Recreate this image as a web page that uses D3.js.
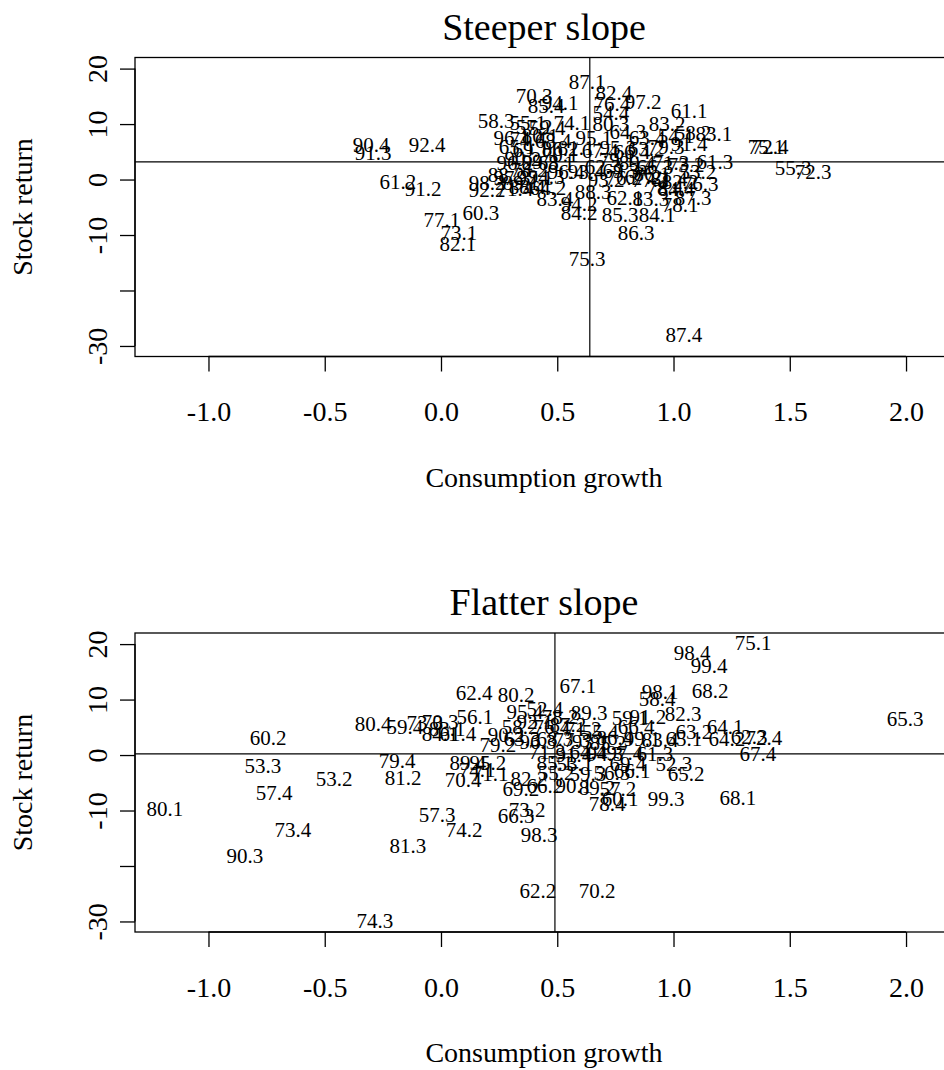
<!DOCTYPE html>
<html>
<head>
<meta charset="utf-8">
<script src="https://cdn.jsdelivr.net/npm/d3@7"></script>
<style>
  body { margin: 0; background: #fff; }
  text { font-family: "Liberation Serif", "Times New Roman", serif; fill: #000; }
</style>
</head>
<body>
<svg id="chart" width="944" height="1070"></svg>
<script>
// Steeper slope panel: quarter labels and their positions
var steepLabels = ["87.1","82.4","76.4","97.2","54.4","61.1","83.2","54.1","58.2","83.1",
  "91.4","75.1","72.4","55.3","72.3","90.4","91.3","92.4","58.3","55.1",
  "70.3","85.4","94.1","61.2","91.2","77.1","60.3","73.1","82.1","92.2",
  "71.4","64.2","83.4","98.2","88.2","89.1","97.1","96.2","93.4","93.2",
  "88.3","94.2","84.2","62.1","83.3","85.3","84.1","86.3","75.3","87.4",
  "78.1","87.3","77.2","78.4","84.4","82.2","76.3","76.2","67.2","61.3",
  "53.2","80.3","74.1","64.3","95.1","96.1","74.4","80.1","68.4","57.2",
  "59.4","65.1","69.1","86.2","81.1","67.4","95.3","66.4","63.2","79.1",
  "89.4","66.3","71.3","73.2","90.2","99.3","68.1","96.4","62.3","69.3",
  "86.1","81.4","78.2","94.3","88.4","97.3","79.3","63.4","70.1"];
var steepGrowth = [0.628,0.744,0.735,0.869,0.731,1.067,0.972,1.011,1.084,1.174,
  1.067,1.398,1.415,1.514,1.600,-0.301,-0.292,-0.060,0.237,0.374,
  0.400,0.452,0.512,-0.185,-0.077,0.004,0.172,0.077,0.073,0.198,
  0.318,0.460,0.490,0.198,0.280,0.344,0.404,0.318,0.624,0.710,
  0.654,0.594,0.594,0.791,0.903,0.770,0.929,0.839,0.628,1.045,
  1.028,1.084,0.899,0.963,1.011,1.028,1.114,0.787,0.869,1.178,
  1.105,0.731,0.563,0.804,0.658,0.305,0.374,0.426,0.482,0.400,
  0.456,0.327,0.387,0.512,0.581,0.684,0.761,0.821,0.882,0.757,
  0.843,0.920,0.989,1.054,0.352,0.426,0.495,0.538,0.697,0.774,
  0.907,0.981,0.379,0.452,0.370,0.305,0.968,0.886,0.512];
var steepReturn = [17.6,15.6,13.6,14.0,12.0,12.5,10.0,7.9,8.4,8.2,
  6.4,6.0,6.0,2.1,1.4,6.2,4.8,6.2,10.7,10.2,
  15.1,13.4,13.8,-0.3,-1.7,-7.3,-5.9,-9.5,-11.6,-1.9,
  -1.7,-1.5,-3.5,-0.6,0.8,-0.6,0.3,3.0,1.4,-0.1,
  -2.1,-4.4,-5.9,-3.2,-3.5,-6.4,-6.4,-9.5,-14.2,-27.9,
  -4.6,-3.3,-0.1,-1.4,-1.7,-0.3,-0.8,0.3,0.5,3.3,
  1.4,10.0,10.2,8.6,7.5,7.5,7.3,8.0,7.1,9.6,
  9.3,6.0,5.4,5.6,5.8,5.2,5.8,5.1,5.6,3.5,
  3.0,2.3,3.0,2.6,3.7,3.3,3.0,1.4,2.3,1.6,
  1.0,0.1,1.7,0.6,-1.2,0.3,6.0,7.5,4.5];
var steepMeanGrowth = 0.64;
var steepMeanReturn = 3.2;

// Flatter slope panel
var flatLabels = ["75.1","98.4","99.4","68.2","98.1","58.4","82.3","59.1","91.2","66.4",
  "63.2","64.1","65.1","64.2","62.3","72.4","67.4","65.3","65.2","52.3",
  "99.3","68.1","66.1","78.4","60.1","57.2","90.1","89.2","66.2","85.1",
  "53.1","55.2","59.3","69.4","56.3","82.2","69.2","73.2","66.3","98.3",
  "62.2","70.2","57.3","74.2","81.3","70.4","89.4","95.2","71.1","74.1",
  "81.2","79.4","53.2","53.3","57.4","80.1","73.4","90.3","74.3","60.2",
  "80.4","59.4","73.3","70.3","56.1","62.4","80.2","84.1","61.4","83.1",
  "79.2","90.2","63.3","68.3","95.4","52.4","89.3","78.2","67.1","99.1",
  "64.4","94.3","97.4","92.1","76.4","87.2","71.2","55.4","86.4","96.3",
  "77.3","93.1","85.2","83.4","61.3","91.4","71.3","58.2"];
var flatGrowth = [1.342,1.080,1.153,1.157,0.942,0.929,1.041,0.813,0.890,0.839,
  1.088,1.222,1.045,1.230,1.325,1.389,1.363,1.996,1.054,1.002,
  0.968,1.277,0.822,0.714,0.770,0.761,0.572,0.671,0.447,0.490,
  0.576,0.495,0.632,0.804,0.735,0.378,0.344,0.370,0.323,0.422,
  0.417,0.671,-0.017,0.099,-0.142,0.095,0.116,0.202,0.211,0.155,
  -0.163,-0.189,-0.460,-0.766,-0.718,-1.187,-0.637,-0.843,-0.284,-0.744,
  -0.292,-0.155,-0.069,-0.004,0.146,0.142,0.323,-0.004,0.073,0.026,
  0.245,0.280,0.348,0.490,0.361,0.447,0.637,0.512,0.589,0.865,
  0.632,0.705,0.791,0.404,0.477,0.546,0.611,0.684,0.748,0.417,
  0.563,0.641,0.718,0.942,0.920,0.572,0.456,0.340];
var flatReturn = [20.2,18.4,16.2,11.6,11.4,10.1,7.4,6.7,6.9,5.2,
  4.2,5.2,2.9,2.9,3.4,3.2,0.2,6.5,-3.4,-1.6,
  -7.9,-7.6,-2.9,-8.7,-7.8,-6.1,-5.6,-5.8,-5.6,-1.3,
  -1.6,-3.1,-3.4,-1.6,-3.1,-4.3,-6.1,-9.9,-11.0,-14.4,
  -24.5,-24.5,-10.8,-13.4,-16.4,-4.5,-1.4,-1.3,-3.4,-2.7,
  -4.0,-1.1,-4.3,-2.0,-6.7,-9.6,-13.4,-18.1,-29.8,3.1,
  5.6,5.2,5.8,6.1,7.0,11.2,10.8,3.8,3.8,4.7,
  1.8,3.6,2.9,2.9,7.9,8.3,7.6,7.0,12.5,2.9,
  0.7,0.2,0.4,6.1,5.1,5.4,4.7,4.2,3.2,2.5,
  2.7,2.5,2.2,2.7,0.2,0.0,0.7,5.1];
var flatMeanGrowth = 0.49;
var flatMeanReturn = 0.2;

// Axes
var xTicks = [-1.0, -0.5, 0.0, 0.5, 1.0, 1.5, 2.0];
var xTickLabels = ["-1.0", "-0.5", "0.0", "0.5", "1.0", "1.5", "2.0"];
var yTicks = [-30, -20, -10, 0, 10, 20];
var yTickLabels = ["-30", "", "-10", "0", "10", "20"];

var svg = d3.select("#chart");

function drawPanel(boxTop, title, labels, xs, ys, meanX, meanY) {
    var left = 135, right = 953, boxBottom = boxTop + 299;

    var x = d3.scaleLinear().domain([-1.316, 2.202]).range([left, right]);
    var y = d3.scaleLinear().domain([-31.9, 22.0]).range([boxBottom, boxTop]);

    var g = svg.append("g");

    // plot box
    g.append("rect")
        .attr("x", left).attr("y", boxTop)
        .attr("width", right - left).attr("height", boxBottom - boxTop)
        .attr("fill", "none").attr("stroke", "#000").attr("stroke-width", 1.3);

    // x axis
    var xAxis = d3.axisBottom(x)
        .tickValues(xTicks)
        .tickSize(15)
        .tickPadding(30)
        .tickFormat(function (d, i) { return xTickLabels[i]; });
    g.append("g")
        .attr("transform", "translate(0," + boxBottom + ")")
        .call(xAxis)
        .call(function (a) {
            a.select(".domain").attr("d", "M" + x(-1) + ",0H" + x(2)).attr("stroke-width", 1.3);
            a.selectAll("line").attr("stroke-width", 1.3);
            a.selectAll("text")
                .style("font-size", "28px")
                .style("font-family", "Liberation Serif");
        });

    // y axis
    var yAxis = d3.axisLeft(y)
        .tickValues(yTicks)
        .tickSize(15)
        .tickFormat(function (d, i) { return yTickLabels[i]; });
    g.append("g")
        .attr("transform", "translate(" + left + ",0)")
        .call(yAxis)
        .call(function (a) {
            a.select(".domain").attr("d", "M0," + y(-30) + "V" + y(20)).attr("stroke-width", 1.3);
            a.selectAll("line").attr("stroke-width", 1.3);
            a.selectAll("text")
                .style("font-size", "28px")
                .style("font-family", "Liberation Serif")
                .attr("text-anchor", "middle")
                .attr("x", null).attr("dy", null)
                .attr("transform", "translate(-38,0) rotate(-90)")
                .attr("dy", "0.35em");
        });

    // reference lines
    g.append("line")
        .attr("x1", x(meanX)).attr("x2", x(meanX))
        .attr("y1", boxTop).attr("y2", boxBottom)
        .attr("stroke", "#000").attr("stroke-width", 1.2);
    g.append("line")
        .attr("x1", left).attr("x2", right)
        .attr("y1", y(meanY)).attr("y2", y(meanY))
        .attr("stroke", "#000").attr("stroke-width", 1.2);

    // point labels
    g.selectAll(".lbl")
        .data(labels)
        .enter()
        .append("text")
        .attr("class", "lbl")
        .attr("x", function (d, i) { return x(xs[i]); })
        .attr("y", function (d, i) { return y(ys[i]); })
        .attr("dy", "0.35em")
        .attr("text-anchor", "middle")
        .style("font-size", "21px")
        .text(function (d) { return d; });

    // titles
    g.append("text")
        .attr("x", (left + right) / 2)
        .attr("y", boxTop - 18)
        .attr("text-anchor", "middle")
        .style("font-size", "38px")
        .text(title);

    g.append("text")
        .attr("x", (left + right) / 2)
        .attr("y", boxBottom + 130)
        .attr("text-anchor", "middle")
        .style("font-size", "28px")
        .text("Consumption growth");

    g.append("text")
        .attr("transform", "translate(22," + ((boxTop + boxBottom) / 2) + ") rotate(-90)")
        .attr("dy", "0.35em")
        .attr("text-anchor", "middle")
        .style("font-size", "28px")
        .text("Stock return");
}

drawPanel(57.5, "Steeper slope", steepLabels, steepGrowth, steepReturn, steepMeanGrowth, steepMeanReturn);
drawPanel(633, "Flatter slope", flatLabels, flatGrowth, flatReturn, flatMeanGrowth, flatMeanReturn);
</script>
</body>
</html>
